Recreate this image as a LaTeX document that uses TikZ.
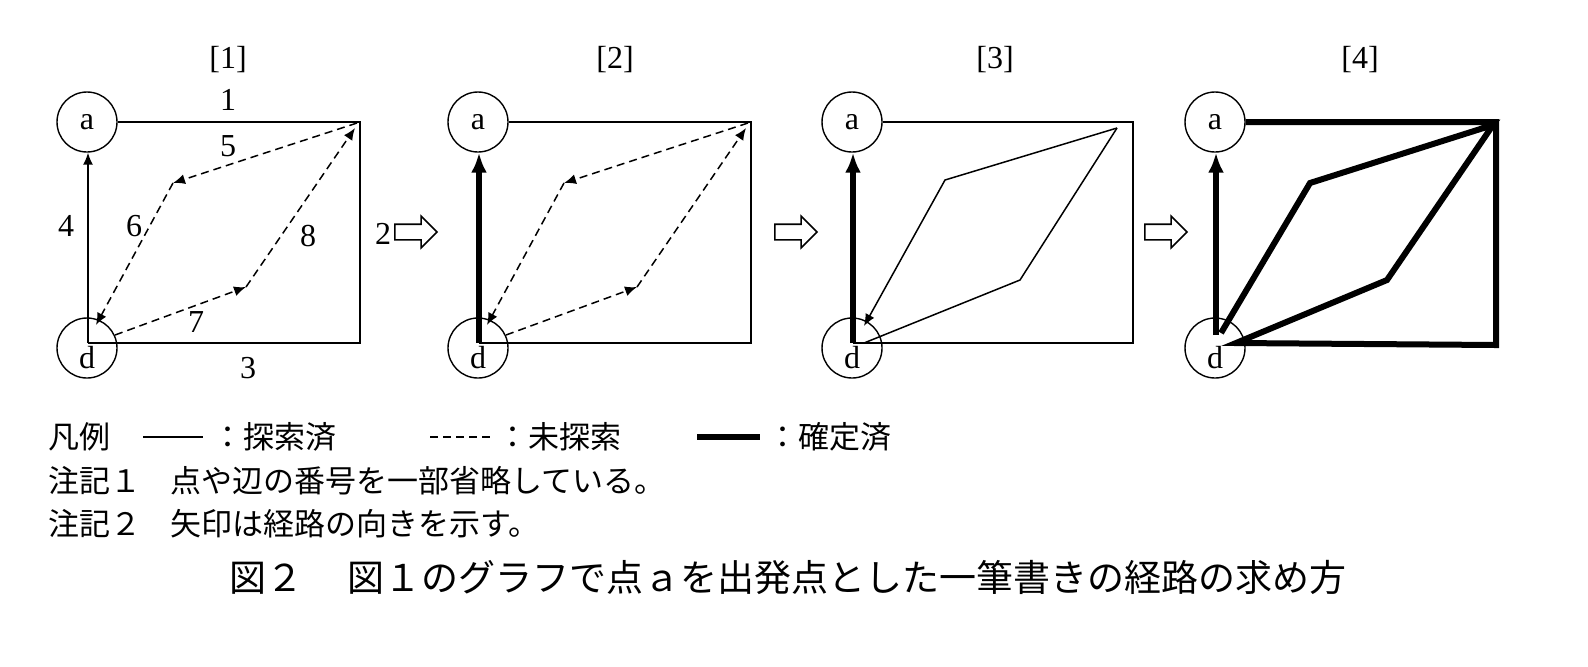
\documentclass[tikz,border=0pt]{standalone}
\usepackage{fontspec}
\setmainfont{Liberation Serif}
\newfontfamily\jp{Noto Sans CJK JP}
\usetikzlibrary{arrows.meta,shapes.arrows}
\begin{document}
\begin{tikzpicture}[x=0.5pt,y=-0.5pt,
  vtx/.style={draw,circle,line width=0.7pt,minimum size=30pt,inner sep=0pt,font=\fontsize{16}{16}\selectfont},
  thin/.style={line width=0.75pt},
  dsh/.style={line width=0.75pt,dash pattern=on 4pt off 2.5pt},
  thk/.style={line width=3pt},
  tip/.style={-{Latex[length=6pt,width=5pt]}},
  btip/.style={-{Latex[length=10pt,width=8pt]}},
  lbl/.style={font=\fontsize{16}{16}\selectfont,inner sep=1pt},
  harrow/.style={draw,single arrow,line width=0.8pt,minimum height=21pt,single arrow head extend=4pt,inner sep=3.5pt},
  jt/.style={font=\jp\fontsize{15.5}{15.5}\selectfont,anchor=west,inner sep=0pt}]
\useasboundingbox (0,0) rectangle (1588,666);
% panel 1
\node[lbl] (t1) at (228,60) {[1]};
\node[vtx] (a1) at (87,122) {a};
\node[vtx] (d1) at (87,348) {};
\node[lbl] (dl1) at (87,358) {d};
\coordinate (o1) at (88,343);
\coordinate (c1) at (360,122);
\coordinate (e1) at (360,343);
\coordinate (p1) at (173,183);
\coordinate (q1) at (246,287);
\draw[thin] (a1.east) -- (c1) -- (e1) -- (o1);
\draw[thin,tip] (o1) -- (a1.south -| o1);
\draw[dsh,tip] (357,123) -- (p1);
\draw[dsh,tip] (p1) -- (96,325);
\draw[dsh,tip] (115,335) -- (q1);
\draw[dsh,tip] (q1) -- (355,128);
\node[lbl] (n1) at (228,100) {1};
\node[lbl] (n5) at (228,146) {5};
\node[lbl] (n4) at (66,226) {4};
\node[lbl] (n6) at (134,226) {6};
\node[lbl] (n8) at (308,236) {8};
\node[lbl] (n7) at (196,322) {7};
\node[lbl] (n3) at (248,368) {3};
\node[lbl] (n2) at (383,234) {2};
\node[harrow] (h1) at (412,232) {};
% panel 2
\node[lbl] (t2) at (615,60) {[2]};
\node[vtx] (a2) at (478,122) {a};
\node[vtx] (d2) at (478,348) {};
\node[lbl] (dl2) at (478,358) {d};
\coordinate (o2) at (479,343);
\coordinate (c2) at (751,122);
\coordinate (e2) at (751,343);
\coordinate (p2) at (564,183);
\coordinate (q2) at (637,287);
\draw[thin] (a2.east) -- (c2) -- (e2) -- (o2);
\draw[thk,btip] (o2) -- (a2.south -| o2);
\draw[dsh,tip] (748,123) -- (p2);
\draw[dsh,tip] (p2) -- (487,325);
\draw[dsh,tip] (506,335) -- (q2);
\draw[dsh,tip] (q2) -- (746,128);
\node[harrow] (h2) at (792,232) {};
% panel 3
\node[lbl] (t3) at (995,60) {[3]};
\node[vtx] (a3) at (852,122) {a};
\node[vtx] (d3) at (852,348) {};
\node[lbl] (dl3) at (852,358) {d};
\coordinate (o3) at (853,343);
\coordinate (c3) at (1133,122);
\coordinate (e3) at (1133,343);
\coordinate (p3) at (945,180);
\coordinate (q3) at (1020,280);
\draw[thin] (a3.east) -- (c3) -- (e3) -- (o3);
\draw[thk,btip] (o3) -- (a3.south -| o3);
\draw[thin,tip] (1117,128) -- (p3) -- (864,326);
\draw[thin] (864,343) -- (q3) -- (1117,128);
\node[harrow] (h3) at (1162,232) {};
% panel 4
\node[lbl] (t4) at (1360,60) {[4]};
\node[vtx] (a4) at (1215,122) {a};
\node[vtx] (d4) at (1215,348) {};
\node[lbl] (dl4) at (1215,358) {d};
\coordinate (c4) at (1496,122);
\coordinate (e4) at (1496,345);
\coordinate (p4) at (1310,183);
\coordinate (q4) at (1387,280);
\draw[thk,line join=miter] (a4.east) -- (c4) -- (e4) -- (1236,343) -- (q4) -- (1493,125) -- (p4) -- (1221,333);
\coordinate (o4) at (1216,335);
\draw[thk,btip] (o4) -- (a4.south -| o4);
% legend
\node[jt] (lg) at (48,437) {凡例};
\coordinate (l1a) at (143,437); \coordinate (l1b) at (203,437);
\draw[thin] (l1a) -- (l1b);
\node[jt] (lg1) at (212,437) {：探索済};
\coordinate (l2a) at (430,437); \coordinate (l2b) at (490,437);
\draw[dsh] (l2a) -- (l2b);
\node[jt] (lg2) at (497,437) {：未探索};
\coordinate (l3a) at (697,437); \coordinate (l3b) at (760,437);
\draw[thk] (l3a) -- (l3b);
\node[jt] (lg3) at (767,437) {：確定済};
\node[jt] (nt1) at (48,481) {注記１};
\node[jt] (nt1b) at (170,481) {点や辺の番号を一部省略している。};
\node[jt] (nt2) at (48,524) {注記２};
\node[jt] (nt2b) at (170,524) {矢印は経路の向きを示す。};
\node[font=\jp\fontsize{18.5}{18.5}\selectfont,inner sep=0pt] (cap) at (788,577) {図２\hspace{1.2em}図１のグラフで点ａを出発点とした一筆書きの経路の求め方};
\end{tikzpicture}
\end{document}
